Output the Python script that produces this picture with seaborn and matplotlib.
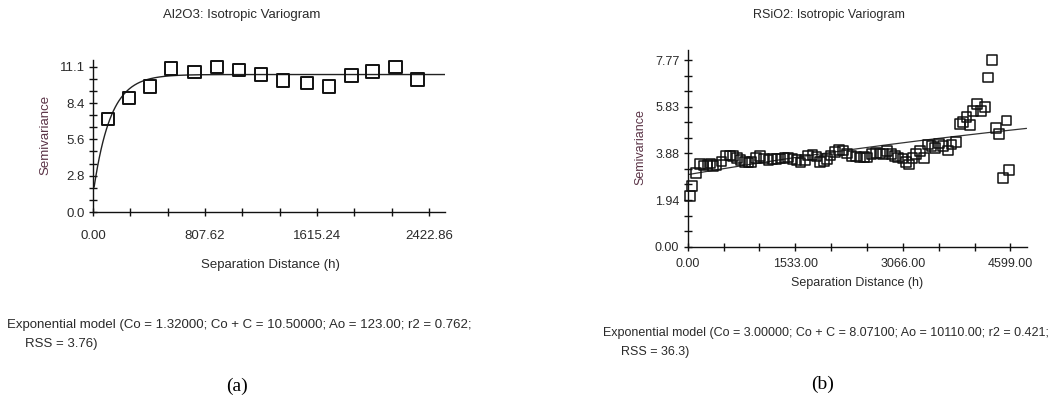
import numpy as np
import pandas as pd
import matplotlib
matplotlib.use("Agg")
import matplotlib.pyplot as plt
from matplotlib.ticker import FixedLocator, FixedFormatter
import seaborn as sns

# ---------------- data ----------------
# Panel (a): Al2O3
a_lag = [108, 260, 413, 562, 733, 892, 1053, 1212, 1370, 1541, 1702, 1863, 2014, 2180, 2339]
a_gamma = [7.11, 8.69, 9.60, 10.95, 10.69, 11.07, 10.85, 10.49, 10.06, 9.86, 9.60, 10.41, 10.72, 11.07, 10.13]
a_model = dict(Co=1.32, CoC=10.5, Ao=123.0)
a_xticks = [0.0, 807.62, 1615.24, 2422.86]
a_xticklabels = ["0.00", "807.62", "1615.24", "2422.86"]
a_yticks = [0.0, 2.775, 5.55, 8.325, 11.1]
a_yticklabels = ["0.0", "2.8", "5.6", "8.4", "11.1"]
a_title = "Al2O3: Isotropic Variogram"
a_caption1 = "Exponential model (Co = 1.32000; Co + C = 10.50000; Ao = 123.00; r2 = 0.762;"
a_caption2 = "RSS = 3.76)"

# Panel (b): RSiO2
b_lag = [33, 57, 114, 176, 223, 280, 327, 365, 413, 484, 546, 603, 650, 707, 755, 816,
         864, 911, 973, 1030, 1087, 1149, 1210, 1267, 1324, 1381, 1433, 1495, 1552, 1609,
         1671, 1718, 1780, 1837, 1884, 1941, 1989, 2036, 2098, 2159, 2216, 2273, 2335, 2397,
         2454, 2511, 2558, 2620, 2681, 2738, 2786, 2843, 2905, 2952, 2999, 3061, 3109, 3156,
         3204, 3251, 3308, 3365, 3427, 3474, 3522, 3583, 3640, 3711, 3759, 3821, 3878, 3925,
         3972, 4020, 4067, 4124, 4176, 4233, 4281, 4338, 4390, 4438, 4494, 4542, 4580]
b_gamma = [2.12, 2.54, 3.08, 3.45, 3.38, 3.42, 3.47, 3.35, 3.40, 3.55, 3.80, 3.80, 3.78, 3.70,
           3.62, 3.52, 3.50, 3.52, 3.70, 3.78, 3.68, 3.62, 3.65, 3.65, 3.68, 3.70, 3.72, 3.65,
           3.62, 3.50, 3.62, 3.80, 3.82, 3.75, 3.52, 3.58, 3.65, 3.80, 3.95, 4.02, 4.00, 3.88,
           3.78, 3.76, 3.72, 3.73, 3.72, 3.85, 3.90, 3.88, 3.85, 3.98, 3.85, 3.78, 3.72, 3.68,
           3.52, 3.42, 3.70, 3.85, 3.98, 3.70, 4.25, 4.20, 4.10, 4.30, 4.18, 4.00, 4.25, 4.35,
           5.12, 5.20, 5.40, 5.08, 5.65, 5.95, 5.65, 5.82, 7.05, 7.77, 4.95, 4.70, 2.85, 5.25, 3.20]
b_model = dict(Co=3.0, CoC=8.071, Ao=10110.0)
b_xticks = [0.0, 1533.0, 3066.0, 4599.0]
b_xticklabels = ["0.00", "1533.00", "3066.00", "4599.00"]
b_yticks = [0.0, 1.9425, 3.885, 5.8275, 7.77]
b_yticklabels = ["0.00", "1.94", "3.88", "5.83", "7.77"]
b_title = "RSiO2: Isotropic Variogram"
b_caption1 = "Exponential model (Co = 3.00000; Co + C = 8.07100; Ao = 10110.00; r2 = 0.421;"
b_caption2 = "RSS = 36.3)"

xlabel = "Separation Distance (h)"
ylabel = "Semivariance"

# ---------------- style ----------------
sns.set_theme(style="white")
plt.rcParams["font.family"] = ["Liberation Sans", "DejaVu Sans"]

W, H = 1063, 401
fig = plt.figure(figsize=(W / 100, H / 100), dpi=100)

def px_axes(x0, x1, ytop, ybot):
    return fig.add_axes([x0 / W, 1 - ybot / H, (x1 - x0) / W, (ybot - ytop) / H])

TXT = "#2a2a2a"
YLAB = "#5a3346"

def style_axes(ax, xlim, ylim, xt, xtl, yt, ytl, fs, xpad):
    ax.set_xlim(*xlim)
    ax.set_ylim(*ylim)
    for s in ["top", "right"]:
        ax.spines[s].set_visible(False)
    for s in ["left", "bottom"]:
        ax.spines[s].set_color("#111111")
        ax.spines[s].set_linewidth(1.0)
    ax.xaxis.set_major_locator(FixedLocator(xt))
    ax.xaxis.set_major_formatter(FixedFormatter(xtl))
    ax.yaxis.set_major_locator(FixedLocator(yt))
    ax.yaxis.set_major_formatter(FixedFormatter(ytl))
    xminor = []
    for i in range(len(xt) - 1):
        step = (xt[i + 1] - xt[i]) / 3
        xminor += [xt[i] + step, xt[i] + 2 * step]
    yminor = []
    for i in range(len(yt) - 1):
        step = (yt[i + 1] - yt[i]) / 3
        yminor += [yt[i] + step, yt[i] + 2 * step]
    ax.xaxis.set_minor_locator(FixedLocator(xminor))
    ax.yaxis.set_minor_locator(FixedLocator(yminor))
    ax.tick_params(which="both", direction="inout", length=6, width=1.0, color="#111111",
                   bottom=True, left=True, top=False, right=False)
    ax.tick_params(axis="x", which="major", pad=xpad, labelsize=fs, labelcolor=TXT)
    ax.tick_params(axis="y", which="major", pad=3, labelsize=fs, labelcolor=TXT)
    ax.set_xlabel("")
    ax.set_ylabel("")
    ax.grid(False)
    ax.set_facecolor("white")

def model_curve(p, hmin, hmax):
    h = np.linspace(hmin, hmax, 400)
    g = p["Co"] + (p["CoC"] - p["Co"]) * (1 - np.exp(-h / p["Ao"]))
    return pd.DataFrame({"h": h, "g": g})

# ---------------- panel (a) ----------------
axa = px_axes(93, 445, 60, 212)
dfa = pd.DataFrame({"h": a_lag, "g": a_gamma})
sns.lineplot(data=model_curve(a_model, 8, 2538), x="h", y="g", ax=axa,
             color="#222222", linewidth=1.0)
sns.scatterplot(data=dfa, x="h", y="g", ax=axa, marker="s", s=80,
                facecolor="none", edgecolor="#111111", linewidth=1.4, zorder=3)
style_axes(axa, (0, 2538), (0, 11.61), a_xticks, a_xticklabels, a_yticks, a_yticklabels, 9.5, 10)
axa.collections[-1].set_clip_on(False)

# ---------------- panel (b) ----------------
axb = px_axes(687.7, 1027, 50, 246.7)
dfb = pd.DataFrame({"h": b_lag, "g": b_gamma})
sns.lineplot(data=model_curve(b_model, 0, 4830), x="h", y="g", ax=axb,
             color="#333333", linewidth=0.9)
sns.scatterplot(data=dfb, x="h", y="g", ax=axb, marker="s", s=48,
                facecolor="none", edgecolor="#111111", linewidth=1.1, zorder=3)
style_axes(axb, (0, 4836), (0, 8.19), b_xticks, b_xticklabels, b_yticks, b_yticklabels, 9, 5)
axb.collections[-1].set_clip_on(False)

# ---------------- texts ----------------
def t(x, y, s, **kw):
    fig.text(x / W, 1 - y / H, s, **kw)

t(242, 15, a_title, ha="center", va="center", fontsize=9.5, color=TXT)
t(829, 15, b_title, ha="center", va="center", fontsize=9, color=TXT)
t(270, 265, xlabel, ha="center", va="center", fontsize=9.5, color=TXT)
t(857, 283, xlabel, ha="center", va="center", fontsize=9, color=TXT)
t(45, 135, ylabel, ha="center", va="center", rotation=90, fontsize=9.5, color=YLAB)
t(640, 147, ylabel, ha="center", va="center", rotation=90, fontsize=9, color=YLAB)

t(7, 325, a_caption1, ha="left", va="center", fontsize=9.5, color=TXT)
t(25, 344, a_caption2, ha="left", va="center", fontsize=9.5, color=TXT)
t(603, 333, b_caption1, ha="left", va="center", fontsize=9, color=TXT)
t(621, 352, b_caption2, ha="left", va="center", fontsize=9, color=TXT)

t(237, 386, "(a)", ha="center", va="center", fontsize=14,
  family=["Liberation Serif", "DejaVu Serif"], color="black")
t(823, 384, "(b)", ha="center", va="center", fontsize=14,
  family=["Liberation Serif", "DejaVu Serif"], color="black")

fig.savefig("out.png", dpi=100, facecolor="white")
